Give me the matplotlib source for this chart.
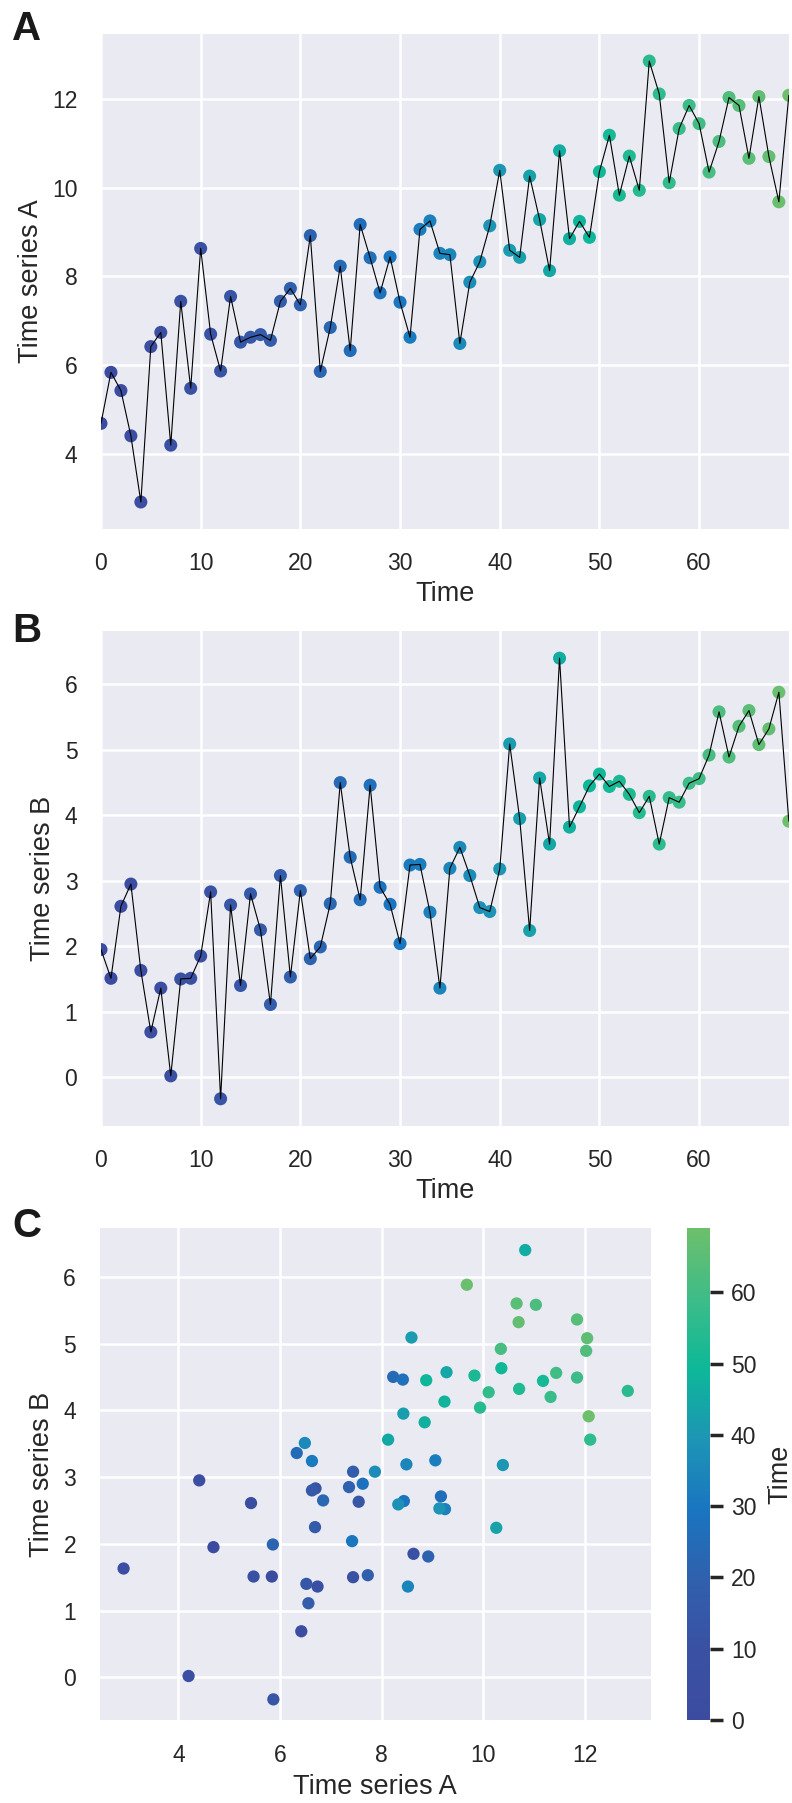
import numpy as np
import matplotlib
matplotlib.use("Agg")
import matplotlib.pyplot as plt
import seaborn as sns
from matplotlib.colors import LinearSegmentedColormap

# ---------------- data ----------------
time = np.arange(70)

series_a = [4.69, 5.84, 5.43, 4.41, 2.92, 6.42, 6.74, 4.20, 7.44, 5.48,
            8.63, 6.70, 5.87, 7.55, 6.52, 6.63, 6.69, 6.56, 7.44, 7.73,
            7.36, 8.92, 5.86, 6.85, 8.23, 6.33, 9.17, 8.42, 7.63, 8.44,
            7.42, 6.63, 9.06, 9.25, 8.52, 8.49, 6.49, 7.87, 8.33, 9.14,
            10.39, 8.59, 8.43, 10.26, 9.28, 8.13, 10.83, 8.85, 9.24, 8.88,
            10.36, 11.18, 9.83, 10.71, 9.94, 12.85, 12.11, 10.11, 11.33, 11.85,
            11.44, 10.35, 11.04, 12.03, 11.85, 10.66, 12.05, 10.70, 9.68, 12.08]

series_b = [1.95, 1.51, 2.61, 2.95, 1.63, 0.69, 1.36, 0.02, 1.50, 1.51,
            1.85, 2.83, -0.33, 2.63, 1.40, 2.80, 2.25, 1.11, 3.08, 1.53,
            2.85, 1.81, 1.99, 2.65, 4.50, 3.36, 2.71, 4.46, 2.90, 2.64,
            2.04, 3.24, 3.25, 2.52, 1.36, 3.19, 3.51, 3.08, 2.59, 2.53,
            3.18, 5.09, 3.95, 2.24, 4.57, 3.56, 6.40, 3.82, 4.13, 4.45,
            4.63, 4.44, 4.52, 4.32, 4.04, 4.29, 3.56, 4.27, 4.20, 4.49,
            4.56, 4.92, 5.58, 4.89, 5.36, 5.60, 5.08, 5.32, 5.88, 3.91]

time_ticks = [0, 10, 20, 30, 40, 50, 60]
a_ticks = [4, 6, 8, 10, 12]
b_ticks = [0, 1, 2, 3, 4, 5, 6]
scatter_x_ticks = [4, 6, 8, 10, 12]
cbar_ticks = [0, 10, 20, 30, 40, 50, 60]

cmap_colors = ["#3b4ca0", "#3a51a3", "#3060ad", "#1a75c0",
               "#1d95b5", "#0db898", "#3dbc88", "#6dbf6b"]

# ---------------- style ----------------
sns.set_theme(style="darkgrid")
plt.rcParams['font.family'] = ['Liberation Sans', 'DejaVu Sans']
plt.rcParams.update({
    "axes.facecolor": "#EAEAF2",
    "grid.color": "white",
    "grid.linewidth": 1.8,
    "xtick.labelsize": 16.5,
    "ytick.labelsize": 16.5,
    "axes.labelsize": 19.5,
    "text.color": "#262626",
    "axes.labelcolor": "#262626",
    "xtick.color": "#262626",
    "ytick.color": "#262626",
})

cmap = LinearSegmentedColormap.from_list("timecmap", cmap_colors)
tmin, tmax = 0, 69

fig = plt.figure(figsize=(7.92, 18.03), dpi=100)

axA = fig.add_axes([0.1275, 0.7068, 0.8685, 0.2741])
axB = fig.add_axes([0.1275, 0.3757, 0.8685, 0.2745])
axC = fig.add_axes([0.1259, 0.0460, 0.6956, 0.2729])
cax = fig.add_axes([0.8674, 0.0460, 0.029, 0.2729])

def ts_panel(ax, y, ylabel, yticks, ylim):
    ax.scatter(time, y, c=time, cmap=cmap, vmin=tmin, vmax=tmax,
               s=88, linewidths=0, zorder=2, clip_on=True)
    ax.plot(time, y, color="black", lw=0.8, zorder=3)
    ax.set_xlim(0, 69)
    ax.set_ylim(*ylim)
    ax.set_xticks(time_ticks)
    ax.set_yticks(yticks)
    ax.set_xlabel("Time", labelpad=4)
    ax.set_ylabel(ylabel, labelpad=6)
    ax.tick_params(axis="both", which="both", length=0, pad=17)
    for s in ax.spines.values():
        s.set_visible(False)

ts_panel(axA, series_a, "Time series A", a_ticks, (2.32, 13.45))
ts_panel(axB, series_b, "Time series B", b_ticks, (-0.74, 6.82))

sc = axC.scatter(series_a, series_b, c=time, cmap=cmap, vmin=tmin, vmax=tmax,
                 s=78, linewidths=0, zorder=2)
axC.set_xlim(2.45, 13.3)
axC.set_ylim(-0.64, 6.73)
axC.set_xticks(scatter_x_ticks)
axC.set_yticks(b_ticks)
axC.set_xlabel("Time series A", labelpad=5)
axC.set_ylabel("Time series B", labelpad=6)
axC.tick_params(axis="both", which="both", length=0, pad=17)
for s in axC.spines.values():
    s.set_visible(False)

cb = fig.colorbar(sc, cax=cax)
cb.set_ticks(cbar_ticks)
cb.outline.set_visible(False)
cax.tick_params(axis="y", length=9, width=2.5, pad=6, color="#262626",
                labelsize=16.5, right=True)
cb.set_label("Time", fontsize=19.5, labelpad=8)

for letter, ybase in [("A", 0.9778), ("B", 0.6439), ("C", 0.3139)]:
    fig.text(0.015, ybase, letter, fontsize=29, fontweight="bold",
             va="baseline", ha="left", color="#1a1a1a")

fig.savefig("out.png", dpi=100)
